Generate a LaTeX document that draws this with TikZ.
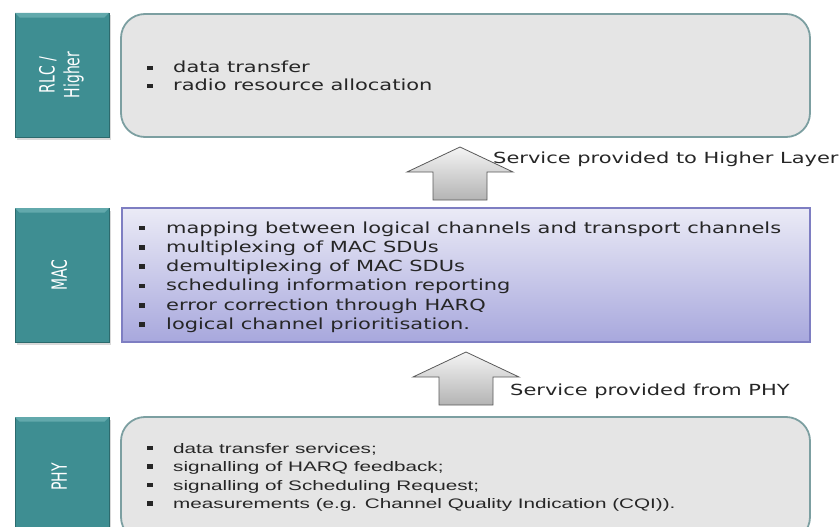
\documentclass[tikz,border=0pt]{standalone}
\usepackage{fontspec}
\setmainfont{DejaVu Sans}
\newfontfamily\verd[FakeStretch=1.37]{DejaVu Sans}
\newfontfamily\arl[FakeStretch=1.5]{Liberation Sans}
\usetikzlibrary{shadows}

\definecolor{layerteal}{HTML}{3E8E92}
\definecolor{tealedge}{HTML}{2C6A6D}
\definecolor{tealshine}{HTML}{62A9AC}
\definecolor{boxgray}{HTML}{E5E5E5}
\definecolor{boxedge}{HTML}{7C9FA1}
\definecolor{macTop}{HTML}{EBEBF6}
\definecolor{macBottom}{HTML}{A8A8DD}
\definecolor{macedge}{HTML}{7E7EC2}
\definecolor{inktext}{HTML}{262626}
\definecolor{arrowTop}{HTML}{F4F4F4}
\definecolor{arrowBottom}{HTML}{B4B4B4}
\definecolor{arrowedge}{HTML}{5A5A5A}

\newcommand{\tagtext}[1]{\scalebox{1.5}[1]{\rotatebox{90}{%
  \fontsize{14}{16.5}\selectfont\begin{tabular}{@{}c@{}}#1\end{tabular}}}}
\newcommand{\bulletbox}[1]{\makebox[#1][l]{\rule[2.6pt]{5.5pt}{4.6pt}}}

\begin{document}
\begin{tikzpicture}[x=1pt,y=-1pt,
  layertag/.style={draw=tealedge, fill=layerteal, line width=0.8pt,
    inner sep=0pt, text=white,
    drop shadow={shadow xshift=1.5pt, shadow yshift=-2.5pt, opacity=0.3}},
  softbox/.style={draw=boxedge, fill=boxgray, line width=1.8pt,
    rounded corners=24pt, inner sep=0pt},
  macbox/.style={draw=macedge, line width=1.3pt, inner sep=0pt,
    top color=macTop, bottom color=macBottom},
  blockarrow/.style={draw=arrowedge, line width=0.8pt, line join=miter,
    top color=arrowTop, bottom color=arrowBottom},
  item/.style={anchor=base west, inner sep=0pt, text=inktext},
  servicelabel/.style={anchor=base west, inner sep=0pt, text=inktext,
    font=\verd\fontsize{15.3}{18}\selectfont},
  uparrow/.pic={\draw[blockarrow] (0,0) -- (-53,25) -- (-27,25) -- (-27,53)
    -- (27,53) -- (27,25) -- (53,25) -- cycle;},
  shine/.style={fill=tealshine, draw=none}
]
\useasboundingbox (0,0) rectangle (839,527);

% layer tags on the left, each with a bevelled top edge
\node[layertag, minimum width=94pt, minimum height=124pt] (rlcTag) at (62,75) {};
\node[layertag, minimum width=94pt, minimum height=134pt] (macTag) at (62,275) {};
\node[layertag, minimum width=94pt, minimum height=120pt] (phyTag) at (62,477) {};
\foreach \t in {rlcTag, macTag, phyTag}
  \fill[shine] ([xshift=0.4pt,yshift=-0.4pt]\t.north west)
    -- ([xshift=-0.4pt,yshift=-0.4pt]\t.north east)
    -- ([xshift=-5pt,yshift=-5pt]\t.north east)
    -- ([xshift=5pt,yshift=-5pt]\t.north west) -- cycle;
\node[text=white, inner sep=0pt] (rlcTagText) at (rlcTag.center) {\tagtext{RLC /\\Higher}};
\node[text=white, inner sep=0pt] (macTagText) at (macTag.center) {\tagtext{MAC}};
\node[text=white, inner sep=0pt] (phyTagText) at (phyTag.center) {\tagtext{PHY}};

% layer function boxes
\node[softbox, minimum width=689pt, minimum height=123pt] (rlcBox) at (465.5,75.5) {};
\node[macbox, minimum width=688pt, minimum height=134pt] (macBox) at (466,275) {};
\node[softbox, minimum width=689pt, minimum height=124pt] (phyBox) at (465.5,479) {};

% service arrows between the layers
\pic at (460,147) {uparrow};
\pic at (466,352) {uparrow};
\node[servicelabel] (svcHigher) at (493,163.5) {Service provided to Higher Layer};
\node[servicelabel] (svcPhy) at (510,395) {Service provided from PHY};

% RLC / higher layer functions
\foreach \txt [count=\i] in {data transfer, radio resource allocation}
  \node[item, font=\verd\fontsize{15.3}{18}\selectfont] (rlcItem\i)
    at (147,{73+18*(\i-1)}) {\bulletbox{26pt}\txt};

% MAC functions
\foreach \txt [count=\i] in {mapping between logical channels and transport channels,
    multiplexing of MAC SDUs, demultiplexing of MAC SDUs,
    scheduling information reporting, error correction through HARQ,
    logical channel prioritisation.}
  \node[item, font=\verd\fontsize{15.3}{18}\selectfont] (macItem\i)
    at (139,{233+19.3*(\i-1)}) {\bulletbox{27pt}\txt};

% PHY services
\foreach \txt [count=\i] in {data transfer services;, signalling of HARQ feedback;,
    signalling of Scheduling Request;,
    {measurements (e.g. Channel Quality Indication (CQI)).}}
  \node[item, font=\arl\fontsize{13.8}{16}\selectfont] (phyItem\i)
    at (147,{453+18.5*(\i-1)}) {\bulletbox{26pt}\txt};
\end{tikzpicture}
\end{document}
